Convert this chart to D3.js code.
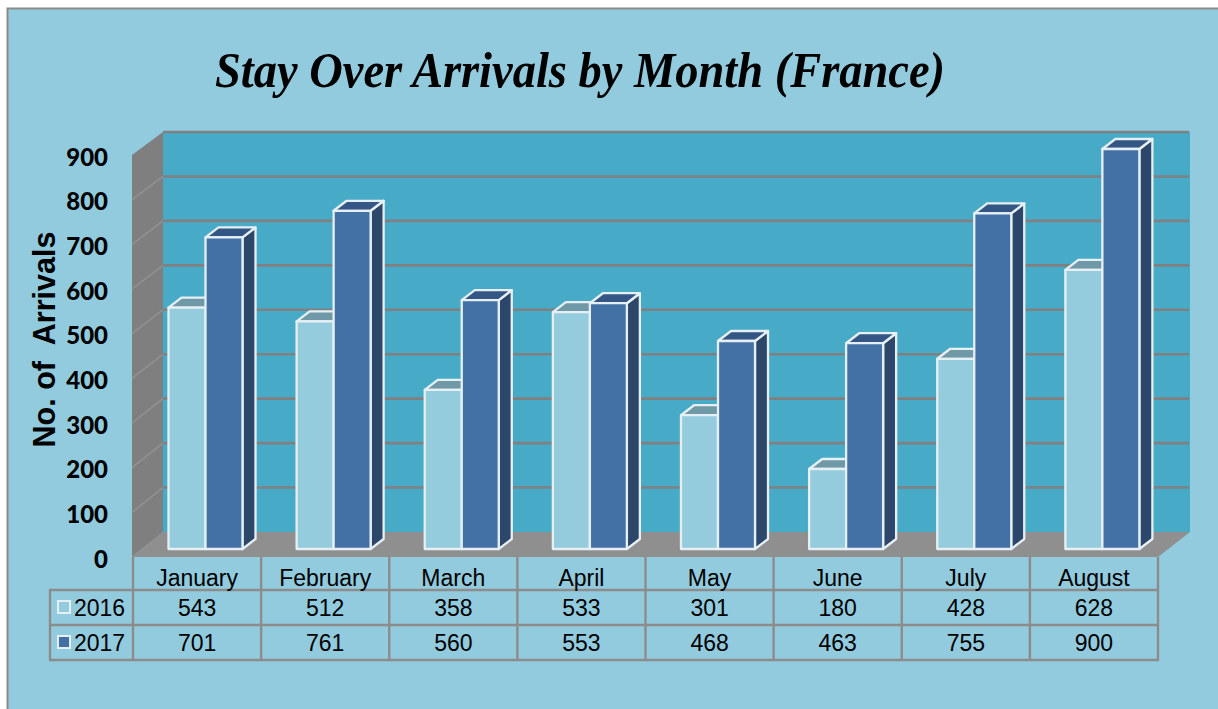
<!DOCTYPE html>
<html><head><meta charset="utf-8">
<script src="https://cdn.jsdelivr.net/npm/d3@7"></script>
<style>html,body{margin:0;padding:0;background:#fff}svg{display:block}</style>
</head><body><svg id="c" width="1218" height="709"></svg>
<script>
const titleText = "Stay Over Arrivals by Month (France)";
const yTitle = "No. of  Arrivals";
const months = ["January","February","March","April","May","June","July","August"];
const seriesNames = ["2016","2017"];
const values2016 = [543,512,358,533,301,180,428,628];
const values2017 = [701,761,560,553,468,463,755,900];
const yTicks = [0,100,200,300,400,500,600,700,800,900];

const svg = d3.select("#c");
const W=1218,H=709;
const depthX=13, depthY=-10;
const colors = {
  "2016":{front:"#94CCDE",top:"#6F99A7",side:"#6F99A7"},
  "2017":{front:"#4371A6",top:"#335684",side:"#2C476A"}
};
const edge="#E6F0F4", grid="#808080", frame="#8C8C8C";
const sans="'Liberation Sans',Arial,sans-serif";

const x0=d3.scaleBand().domain(months).range([133,1158]);
const x1=d3.scaleBand().domain(seriesNames).range([35.5,109.5]);
const yBar=d3.scaleLinear().domain([0,900]).range([549,149]);
const yBack=d3.scaleLinear().domain([0,900]).range([532,132]);
const yFront=d3.scaleLinear().domain([0,900]).range([557,155]);
const backL=163, backR=1190, frontL=132, frontR=1158;
const pts=a=>a.map(p=>p.join(",")).join(" ");

// background
svg.append("rect").attr("x",7.5).attr("y",8.5).attr("width",W).attr("height",H)
  .attr("fill","#92CBDD").attr("stroke",frame).attr("stroke-width",2);

// title
svg.append("text").attr("x",215).attr("y",87).attr("font-family","'Liberation Serif',serif")
  .attr("font-weight","bold").attr("font-style","italic").attr("font-size",51)
  .attr("textLength",730).attr("lengthAdjust","spacingAndGlyphs").attr("fill","#000").text(titleText);

// walls
svg.append("rect").attr("x",backL).attr("y",yBack(900)).attr("width",backR-backL).attr("height",yBack(0)-yBack(900)).attr("fill","#47ABC8");
svg.append("polygon").attr("points",pts([[frontL,yFront(900)],[backL,yBack(900)],[backL,yBack(0)],[frontL,yFront(0)]])).attr("fill","#7F7F7F");
svg.append("polygon").attr("points",pts([[frontL,yFront(0)],[backL,yBack(0)],[backR,yBack(0)],[frontR,yFront(0)]])).attr("fill","#8F8F8F");

// gridlines
svg.append("g").selectAll("line").data(yTicks.filter(d=>d>0)).join("line")
  .attr("x1",backL).attr("x2",backR-1).attr("y1",d=>yBack(d)).attr("y2",d=>yBack(d))
  .attr("stroke",grid).attr("stroke-width",2.6);
svg.append("g").selectAll("line").data(yTicks.filter(d=>d>0&&d<900)).join("line")
  .attr("x1",frontL).attr("x2",backL).attr("y1",d=>yFront(d)).attr("y2",d=>yBack(d))
  .attr("stroke","#929292").attr("stroke-width",1.5);

// bars
const bars=[];
months.forEach((m,i)=>{
  bars.push({m,s:"2016",v:values2016[i]});
  bars.push({m,s:"2017",v:values2017[i]});
});
const g=svg.append("g").selectAll("g").data(bars).join("g")
  .attr("stroke",edge).attr("stroke-width",2.3).attr("stroke-linejoin","round");
g.each(function(d){
  const s=d3.select(this), c=colors[d.s];
  const L=x0(d.m)+x1(d.s), R=L+x1.bandwidth(), T=yBar(d.v), B=yBar(0);
  s.append("polygon").attr("points",pts([[R,T],[R+depthX,T+depthY],[R+depthX,B+depthY],[R,B]])).attr("fill",c.side);
  s.append("polygon").attr("points",pts([[L,T],[L+depthX,T+depthY],[R+depthX,T+depthY],[R,T]])).attr("fill",c.top);
  s.append("rect").attr("x",L).attr("y",T).attr("width",R-L).attr("height",B-T).attr("fill",c.front);
});

// y axis labels
svg.append("g").selectAll("text").data(yTicks).join("text")
  .attr("x",108).attr("y",d=>yFront(d)).attr("dy",10.5).attr("text-anchor","end")
  .attr("font-family","Lato,sans-serif").attr("font-weight","900").attr("font-size",24).attr("fill","#000").text(d=>d);
svg.append("text").attr("transform","translate(55,339.5) rotate(-90)").attr("text-anchor","middle")
  .attr("font-family",sans).attr("font-weight","bold").attr("font-size",30.5)
  .style("white-space","pre").attr("fill","#000").text(yTitle);

// data table
const rowY=[557,590,625,660];
const colX=months.map(m=>x0(m)).concat([1158]);
const t=svg.append("g").attr("stroke",frame).attr("stroke-width",2.4).attr("fill","none");
t.selectAll(".v").data(colX).join("line").attr("x1",d=>d).attr("x2",d=>d).attr("y1",rowY[0]).attr("y2",rowY[3]);
t.append("line").attr("x1",50).attr("x2",50).attr("y1",rowY[1]).attr("y2",rowY[3]);
t.selectAll(".h").data(rowY.slice(1)).join("line").attr("x1",49).attr("x2",1159).attr("y1",d=>d).attr("y2",d=>d);

const tf=s=>s.attr("font-family",sans).attr("font-size",23).attr("fill","#000").attr("text-anchor","middle");
svg.append("g").selectAll("text").data(months).join("text").call(tf)
  .attr("x",m=>x0(m)+x0.bandwidth()/2).attr("y",586).text(m=>m);
[values2016,values2017].forEach((vals,r)=>{
  svg.append("g").selectAll("text").data(vals).join("text").call(tf)
    .attr("x",(d,i)=>x0(months[i])+x0.bandwidth()/2).attr("y",rowY[r+1]+26).text(d=>d);
  svg.append("rect").attr("x",58).attr("y",rowY[r+1]+11).attr("width",12).attr("height",12)
    .attr("fill",colors[seriesNames[r]].front).attr("stroke",edge).attr("stroke-width",2);
  svg.append("text").call(tf).attr("text-anchor","start").attr("x",74).attr("y",rowY[r+1]+26).text(seriesNames[r]);
});
</script></body></html>
